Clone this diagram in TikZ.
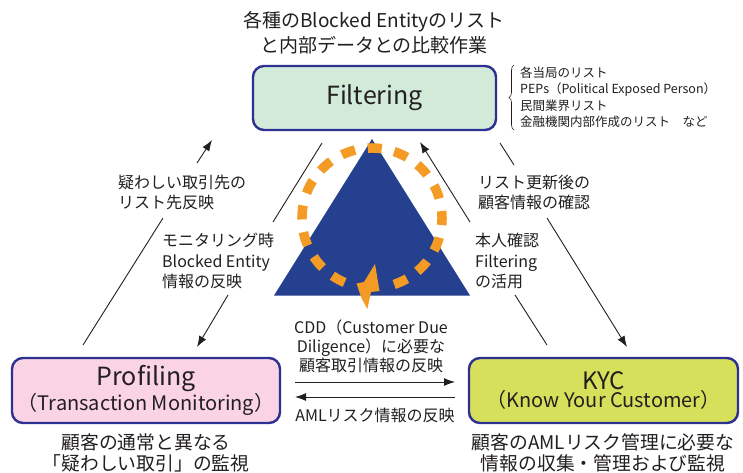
\documentclass[tikz,border=0pt]{standalone}
\usepackage{fontspec}
\setmainfont{Noto Sans CJK JP}
\usetikzlibrary{arrows.meta,decorations.pathreplacing}
\definecolor{txt}{HTML}{231F20}
\definecolor{navy}{HTML}{24408E}
\definecolor{bord}{HTML}{2E3192}
\definecolor{filtfill}{HTML}{D2EBD9}
\definecolor{proffill}{HTML}{FAD3E4}
\definecolor{kycfill}{HTML}{D6E05A}
\definecolor{orng}{HTML}{F39B25}
\begin{document}
\begin{tikzpicture}[x=1pt,y=-1pt,
  box/.style={draw=bord, line width=2.4pt, rounded corners=11pt, align=center, text=txt, inner sep=0pt},
  lbl/.style={align=left, anchor=west, inner sep=0pt, text=txt, font=\fontsize{16}{20}\selectfont},
  ctext/.style={align=center, inner sep=0pt, text=txt},
  conn/.style={line width=0.9pt, draw=txt},
  tip/.style={-{Latex[length=11pt,width=8pt]}}]
\fill[white] (0,0) rectangle (743,472);
\useasboundingbox (0,0) rectangle (743,472);

% title
\node[ctext, font=\fontsize{19}{25}\selectfont] (title) at (374,33) {各種のBlocked Entityのリスト\\と内部データとの比較作業};

% boxes
\node[box, fill=filtfill, minimum width=243pt, minimum height=64pt] (filt) at (374.5,98) {\fontsize{25}{30}\selectfont Filtering};
\node[box, fill=proffill, minimum width=268pt, minimum height=65pt] (prof) at (146,390.5)
  {\fontsize{25}{25}\selectfont Profiling\\\fontsize{20}{25}\selectfont （Transaction Monitoring）};
\node[box, fill=kycfill, minimum width=269pt, minimum height=65pt] (kyc) at (603.5,390.5)
  {\fontsize{24}{25}\selectfont KYC\\\fontsize{20}{25}\selectfont （Know Your Customer）};

% brace and list
\draw[decorate, decoration={brace, amplitude=5pt}, line width=0.6pt, txt] (514,130) -- (514,65);
\node[lbl, font=\fontsize{12.5}{16.5}\selectfont] (blist) at (520,97)
  {各当局のリスト\\PEPs（Political Exposed Person）\\民間業界リスト\\金融機関内部作成のリスト　など};

% labels under boxes
\node[ctext, font=\fontsize{18.8}{21}\selectfont] (plab) at (146,452.5) {顧客の通常と異なる\\「疑わしい取引」の監視};
\node[ctext, font=\fontsize{18.8}{21}\selectfont] (klab) at (603,452.5) {顧客のAMLリスク管理に必要な\\情報の収集・管理および監視};

% triangle and cycle
\fill[navy] (372,139) -- (274,295.5) -- (470,295.5) -- cycle;
\draw[orng, line width=9.5pt, dash pattern=on 14pt off 12.8pt] (372,218) ++(113:70) arc[start angle=113, end angle=432, radius=70];
\fill[orng] (375,264) -- (379.5,291) -- (371,292) -- (367.3,309) -- (361,297) -- (356.5,283.5) -- (364,282) -- cycle;

% side labels
\node[lbl] (lo) at (118,192.5) {疑わしい取引先の\\リスト先反映};
\node[lbl, font=\fontsize{16}{20.8}\selectfont] (li) at (162,261) {モニタリング時\\Blocked Entity\\情報の反映};
\node[lbl] (ro) at (478,192.5) {リスト更新後の\\顧客情報の確認};
\node[lbl, font=\fontsize{16}{20.8}\selectfont] (ri) at (475,261) {本人確認\\Filtering\\の活用};
\node[ctext, font=\fontsize{16}{19}\selectfont] (mid) at (371,346) {CDD（Customer Due\\Diligence）に必要な\\顧客取引情報の反映};
\node[ctext, font=\fontsize{16}{19}\selectfont] (aml) at (375,415) {AMLリスク情報の反映};

% connector coordinates
\coordinate (lo1) at (83,345);  \coordinate (lo2) at (163,218);
\coordinate (lo3) at (197,163); \coordinate (lo4) at (212,140);
\coordinate (li1) at (322,143); \coordinate (li2) at (273,222);
\coordinate (li3) at (228,295); \coordinate (li4) at (197,347);
\coordinate (ri1) at (470,222); \coordinate (ri2) at (420,142);
\coordinate (ri3) at (515,295); \coordinate (ri4) at (547,345);
\coordinate (ro1) at (500,143); \coordinate (ro2) at (514,165);
\coordinate (ro3) at (547,218); \coordinate (ro4) at (627,347);
\coordinate (m1) at (295,382); \coordinate (m2) at (455,382);
\coordinate (m3) at (455,397); \coordinate (m4) at (295,397);

\draw[conn] (lo1) -- (lo2);
\draw[conn, tip] (lo3) -- (lo4);
\draw[conn] (li1) -- (li2);
\draw[conn, tip] (li3) -- (li4);
\draw[conn, tip] (ri1) -- (ri2);
\draw[conn] (ri3) -- (ri4);
\draw[conn] (ro1) -- (ro2);
\draw[conn, tip] (ro3) -- (ro4);
\draw[conn, tip] (m1) -- (m2);
\draw[conn, tip] (m3) -- (m4);
\end{tikzpicture}
\end{document}
